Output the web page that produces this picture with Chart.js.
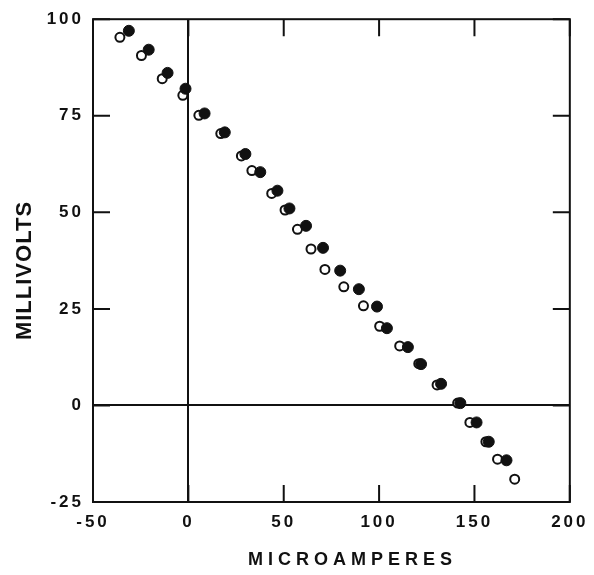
<!DOCTYPE html>
<html>
<head>
<meta charset="utf-8">
<script src="https://cdn.jsdelivr.net/npm/chart.js@4"></script>
<style>
  html, body { margin: 0; padding: 0; background: #fff; }
  #wrap { width: 594px; height: 575px; position: relative; }
</style>
</head>
<body>
<div id="wrap"><canvas id="chart"></canvas></div>
<script>
// Current (microamperes) vs. potential (millivolts), two runs
const openX   = [-35.9, -24.6, -13.7, -2.9, 5.5, 17.0, 27.8, 33.3, 43.7, 50.7, 57.2, 64.3,
                 71.6, 81.5, 91.8, 100.3, 110.8, 120.8, 130.4, 141.2, 147.6, 156.0, 162.1, 171.1];
const openY   = [95.3, 90.6, 84.6, 80.3, 75.1, 70.4, 64.6, 60.8, 54.9, 50.6, 45.6, 40.5,
                 35.2, 30.7, 25.8, 20.5, 15.4, 10.8, 5.3, 0.6, -4.4, -9.4, -13.9, -19.1];
const filledX = [-31.2, -20.8, -10.9, -1.5, 8.5, 19.1, 29.9, 37.7, 46.7, 53.0, 61.7, 70.6,
                 79.6, 89.4, 98.9, 104.1, 115.1, 122.0, 132.5, 142.6, 151.1, 157.5, 166.8];
const filledY = [97.0, 92.1, 86.1, 82.0, 75.6, 70.7, 65.1, 60.4, 55.6, 51.0, 46.5, 40.8,
                 34.9, 30.1, 25.6, 20.0, 15.1, 10.7, 5.6, 0.6, -4.4, -9.4, -14.2];

const xTicks = [-50, 0, 50, 100, 150, 200];
const yTicks = [-25, 0, 25, 50, 75, 100];
const xTitle = 'MICROAMPERES';
const yTitle = 'MILLIVOLTS';

const INK = '#111';
const FONT = '"Liberation Sans", Arial, sans-serif';

const toPoints = (xs, ys) => xs.map((x, i) => ({ x: x, y: ys[i] }));

// frame, inward tick marks and spaced-out axis titles
const frame = {
    id: 'frame',
    beforeDraw(chart) {
        chart.ctx.letterSpacing = '3px';
    },
    afterDraw(chart) {
        const { ctx, chartArea: a, scales } = chart;
        const len = 17;
        ctx.save();
        ctx.letterSpacing = '0px';
        ctx.strokeStyle = INK;
        ctx.lineWidth = 2;
        ctx.strokeRect(a.left, a.top, a.right - a.left, a.bottom - a.top);

        ctx.beginPath();
        xTicks.forEach(v => {
            const px = scales.x.getPixelForValue(v);
            ctx.moveTo(px, a.bottom); ctx.lineTo(px, a.bottom - len);
            ctx.moveTo(px, a.top); ctx.lineTo(px, a.top + len);
        });
        yTicks.forEach(v => {
            const py = scales.y.getPixelForValue(v);
            ctx.moveTo(a.left, py); ctx.lineTo(a.left + len, py);
            ctx.moveTo(a.right, py); ctx.lineTo(a.right - len, py);
        });
        ctx.stroke();

        ctx.fillStyle = INK;
        ctx.textBaseline = 'middle';
        ctx.textAlign = 'left';

        // x title
        ctx.font = 'bold 18px ' + FONT;
        ctx.letterSpacing = '5px';
        let w = ctx.measureText(xTitle).width - 5;
        ctx.fillText(xTitle, 350 - w / 2, 560);

        // y title
        ctx.font = 'bold 22px ' + FONT;
        ctx.letterSpacing = '1px';
        w = ctx.measureText(yTitle).width - 1;
        ctx.translate(25, 271);
        ctx.rotate(-Math.PI / 2);
        ctx.fillText(yTitle, -w / 2, 0);

        ctx.restore();
        ctx.letterSpacing = '0px';
    }
};

new Chart(document.getElementById('chart'), {
    type: 'scatter',
    data: {
        datasets: [
            {
                label: 'filled',
                data: toPoints(filledX, filledY),
                pointRadius: 5.5,
                pointBackgroundColor: INK,
                pointBorderColor: INK,
                pointBorderWidth: 1
            },
            {
                label: 'open',
                data: toPoints(openX, openY),
                pointRadius: 4.5,
                pointBackgroundColor: '#fff',
                pointBorderColor: INK,
                pointBorderWidth: 2
            }
        ]
    },
    options: {
        responsive: true,
        maintainAspectRatio: false,
        animation: false,
        layout: { padding: { left: 0, right: 21, top: 14, bottom: 0 } },
        plugins: {
            legend: { display: false },
            tooltip: { enabled: false }
        },
        scales: {
            x: {
                type: 'linear',
                min: -50,
                max: 200,
                afterBuildTicks: (s) => { s.ticks = xTicks.map(v => ({ value: v })); },
                afterFit: (s) => { s.height = 73; },
                border: { display: false },
                grid: {
                    drawTicks: false,
                    lineWidth: 2,
                    color: (c) => c.tick && c.tick.value === 0 ? INK : 'rgba(0,0,0,0)'
                },
                ticks: {
                    color: INK,
                    padding: 10,
                    maxRotation: 0,
                    font: { family: FONT, size: 17, weight: 'bold' }
                }
            },
            y: {
                type: 'linear',
                min: -25,
                max: 100,
                afterBuildTicks: (s) => { s.ticks = yTicks.map(v => ({ value: v })); },
                afterFit: (s) => { s.width = 93; },
                border: { display: false },
                grid: {
                    drawTicks: false,
                    lineWidth: 2,
                    color: (c) => c.tick && c.tick.value === 0 ? INK : 'rgba(0,0,0,0)'
                },
                ticks: {
                    color: INK,
                    padding: 9,
                    font: { family: FONT, size: 17, weight: 'bold' }
                }
            }
        }
    },
    plugins: [frame]
});
</script>
</body>
</html>
